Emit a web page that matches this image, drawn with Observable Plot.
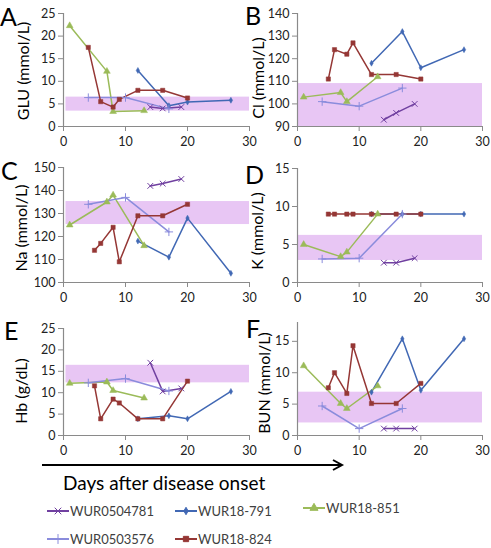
<!DOCTYPE html>
<html><head><meta charset="utf-8">
<script src="https://cdn.jsdelivr.net/npm/d3@7"></script>
<script src="https://cdn.jsdelivr.net/npm/@observablehq/plot@0.6"></script>
<style>
body{margin:0;background:#fff;font-family:Lato,"Open Sans",sans-serif;}
#chart{position:relative;width:491px;height:548px;overflow:hidden;background:#fff}
.panel{position:absolute}
.letter{position:absolute;font-size:25px;color:#000;line-height:1;font-family:Lato,sans-serif}
.ylab{position:absolute;font-size:16px;color:#000;white-space:nowrap;transform:translate(-50%,-50%) rotate(-90deg);font-family:Lato,sans-serif}
.xtitle{position:absolute;font-size:19px;color:#000;white-space:nowrap;font-family:Lato,sans-serif}
</style></head><body><div id="chart"></div><script>
// ---- data ----
const seriesNames = ["WUR0504781", "WUR18-791", "WUR18-851", "WUR0503576", "WUR18-824"];
const seriesColors = ["#7040a0", "#4168b4", "#9bbb59", "#8a8cdc", "#953735"];
const seriesSymbols = ["times", "diamond", "triangle", "plus", "square"];
const seriesDays = [[14, 16, 19], [12, 17, 20, 27], [1, 7, 8, 13], [4, 10, 17], [5, 6, 8, 9, 12, 16, 20]];
const gluDays824 = [4, 6, 8, 9, 12, 16, 20];
const xTicks = [0, 10, 20, 30];

const glu = [[4.3, 4.0, 4.3], [12.4, 4.6, 5.4, 5.8], [22.3, 12.2, 3.3, 3.5], [6.4, 6.4, 3.9], [17.5, 5.5, 4.3, 6.0, 8.0, 8.0, 6.3]];
const cl  = [[93, 96, 100], [118, 132, 116, 124], [103, 105, 101, 112], [101, 99, 107], [111, 124, 122, 127, 113, 113, 111]];
const na  = [[142, 143, 145], [118, 111, 128, 104], [125, 135, 138, 116], [134, 137, 122], [114, 117, 124, 109, 129, 129, 134]];
const k   = [[2.6, 2.6, 3.2], [9, 9, 9, 9], [5.0, 3.4, 4.0, 9.0], [3.1, 3.2, 9.0], [9, 9, 9, 9, 9, 9, 9]];
const hb  = [[17.0, 10.3, 11.0], [3.9, 4.6, 3.9, 10.3], [12.2, 12.5, 10.5, 8.75], [12.3, 13.3, 10.4], [11.6, 3.9, 8.5, 7.6, 3.9, 3.9, 12.7]];
const bun = [[1.1, 1.1, 1.1], [6.9, 15.4, 7.2, 15.4], [11.1, 5.1, 4.3, 7.9], [4.7, 1.1, 4.3], [7.6, 10.0, 6.7, 14.3, 5.1, 5.1, 8.3]];

const gluRange = [3.4, 6.5], clRange = [90, 109], naRange = [125.2, 135.2], kRange = [2.9, 6.2], hbRange = [12.3, 16.4], bunRange = [2.0, 6.9];
const gluTicks = [0, 5, 10, 15, 20, 25], clTicks = [90, 100, 110, 120, 130, 140], naTicks = [100, 110, 120, 130, 140, 150],
      kTicks = [0, 5, 10, 15], hbTicks = [0, 5, 10, 15, 20, 25], bunTicks = [0, 5, 10, 15];
const letters = ["A", "B", "C", "D", "E", "F"];
const yLabels = ["GLU (mmol/L)", "Cl (mmol/L)", "Na (mmol/L)", "K (mmol/L)", "Hb (g/dL)", "BUN (mmol/L)"];
const xTitle = "Days after disease onset";

// ---- style ----
const bandColor = "#e8c6f4";
const axisColor = "#8a8a8a";
const symbolR = {times: 2.7, diamond: 1.8, triangle: 2.5, plus: 2.8, square: 2.4};
const chart = document.getElementById("chart");

function panel(o) {
  const rows = [];
  seriesNames.forEach((name, i) => {
    const days = (o.days && o.days[i]) || seriesDays[i];
    o.values[i].forEach((v, j) => rows.push({series: name, day: days[j], value: v}));
  });
  const dotMarks = seriesNames.map((name, i) => {
    const sym = seriesSymbols[i];
    const filled = ["diamond", "triangle", "square"].includes(sym);
    return Plot.dot(rows.filter(d => d.series === name), {
      x: "day", y: "value", symbol: sym, r: symbolR[sym],
      fill: filled ? seriesColors[i] : "none", stroke: seriesColors[i], strokeWidth: filled ? 0.5 : 1
    });
  });
  const plot = Plot.plot({
    width: o.width, height: o.mT + o.plotH + 30,
    marginLeft: o.mL, marginRight: o.mR, marginTop: o.mT, marginBottom: 30,
    style: {overflow: "visible", fontSize: "12.5px", fontFamily: "Lato, sans-serif", color: "#222", background: "transparent"},
    x: {domain: [0, 30]},
    y: {domain: o.yDomain},
    color: {domain: seriesNames, range: seriesColors},
    marks: [
      Plot.rect([o.band], {x1: () => o.bandX1, x2: () => 30, y1: d => d[0], y2: d => d[1], fill: bandColor}),
      Plot.ruleX([0], {stroke: axisColor, strokeWidth: 1.2}),
      Plot.ruleY([o.yDomain[0]], {stroke: axisColor, strokeWidth: 1.2}),
      Plot.axisX(xTicks, {tickSize: 5, tickPadding: 6, stroke: axisColor, fill: "#222", label: null}),
      Plot.axisY(o.yTicks, {tickSize: 5, tickPadding: 3, stroke: axisColor, fill: "#222", label: null}),
      Plot.line(rows, {x: "day", y: "value", z: "series", stroke: "series", strokeWidth: 1.5}),
      ...dotMarks
    ]
  });
  const div = document.createElement("div");
  div.className = "panel";
  div.style.left = o.left + "px";
  div.style.top = o.top + "px";
  div.appendChild(plot);
  chart.appendChild(div);
}

const L = {left: 0, width: 251, mL: 63, mR: 2, bandX1: 0.4};
const R = {left: 245, width: 239, mL: 52, mR: 2, bandX1: 0.1};
panel({...L, top: 0, mT: 13, plotH: 113, yDomain: [0, 25], yTicks: gluTicks, band: gluRange, values: glu, days: [null, null, null, null, gluDays824]});
panel({...R, top: 0, mT: 13, plotH: 113, yDomain: [90, 140], yTicks: clTicks, band: clRange, values: cl});
panel({...L, top: 154, mT: 13, plotH: 115, yDomain: [100, 150], yTicks: naTicks, band: naRange, values: na});
panel({...R, top: 154, mT: 14, plotH: 114, yDomain: [0, 15], yTicks: kTicks, band: kRange, values: k});
panel({...L, top: 309, mT: 19, plotH: 107, yDomain: [0, 25], yTicks: hbTicks, band: hbRange, values: hb});
panel({...R, top: 309, mT: 13, plotH: 113, yDomain: [0, 18], yTicks: bunTicks, band: bunRange, values: bun});

// letters & y labels
const letterPos = [[0, 4], [245, 3], [1, 158], [245, 162], [4, 318], [246, 316]];
const ylabPos = [[22, 71], [257, 78], [20, 228], [256, 231], [20, 391], [263, 383]];
letters.forEach((t, i) => {
  const d = document.createElement("div");
  d.className = "letter"; d.textContent = t;
  d.style.left = letterPos[i][0] + "px"; d.style.top = letterPos[i][1] + "px";
  chart.appendChild(d);
  const y = document.createElement("div");
  y.className = "ylab"; y.textContent = yLabels[i];
  y.style.left = ylabPos[i][0] + "px"; y.style.top = ylabPos[i][1] + "px";
  chart.appendChild(y);
});

// arrow + x title
const ns = "http://www.w3.org/2000/svg";
const arrow = document.createElementNS(ns, "svg");
arrow.setAttribute("width", 491); arrow.setAttribute("height", 548);
arrow.style.position = "absolute"; arrow.style.left = "0"; arrow.style.top = "0"; arrow.style.pointerEvents = "none";
arrow.innerHTML = `<line x1="42" y1="465" x2="342" y2="465" stroke="#000" stroke-width="2"/>
<path d="M333,460 L342,465 L333,470" fill="none" stroke="#000" stroke-width="2"/>`;
chart.appendChild(arrow);
const xt = document.createElement("div");
xt.className = "xtitle"; xt.textContent = xTitle;
xt.style.left = "63px"; xt.style.top = "471px";
chart.appendChild(xt);

// legend
const legendPos = [[47, 511], [175, 511], [303, 508], [47, 539], [175, 539]];
const leg = document.createElementNS(ns, "svg");
leg.setAttribute("width", 491); leg.setAttribute("height", 548);
leg.style.position = "absolute"; leg.style.left = "0"; leg.style.top = "0";
const symGen = {times: d3.symbolTimes, diamond: d3.symbolDiamond, triangle: d3.symbolTriangle, plus: d3.symbolPlus, square: d3.symbolSquare};
const legSize = {times: 30, diamond: 16, triangle: 28, plus: 34, square: 28};
let html = "";
seriesNames.forEach((name, i) => {
  const [x, y] = legendPos[i];
  const c = seriesColors[i];
  const sym = seriesSymbols[i];
  const filled = ["diamond", "triangle", "square"].includes(sym);
  const p = d3.symbol(symGen[sym], legSize[sym])();
  html += `<line x1="${x}" y1="${y}" x2="${x + 22}" y2="${y}" stroke="${c}" stroke-width="2"/>`;
  html += `<path transform="translate(${x + 11},${y})" d="${p}" fill="${filled ? c : "none"}" stroke="${c}" stroke-width="1"/>`;
  html += `<text x="${x + 23}" y="${y}" dy="0.35em" font-family="Lato, sans-serif" font-size="13" fill="#404040">${name}</text>`;
});
leg.innerHTML = html;
chart.appendChild(leg);
</script></body></html>
